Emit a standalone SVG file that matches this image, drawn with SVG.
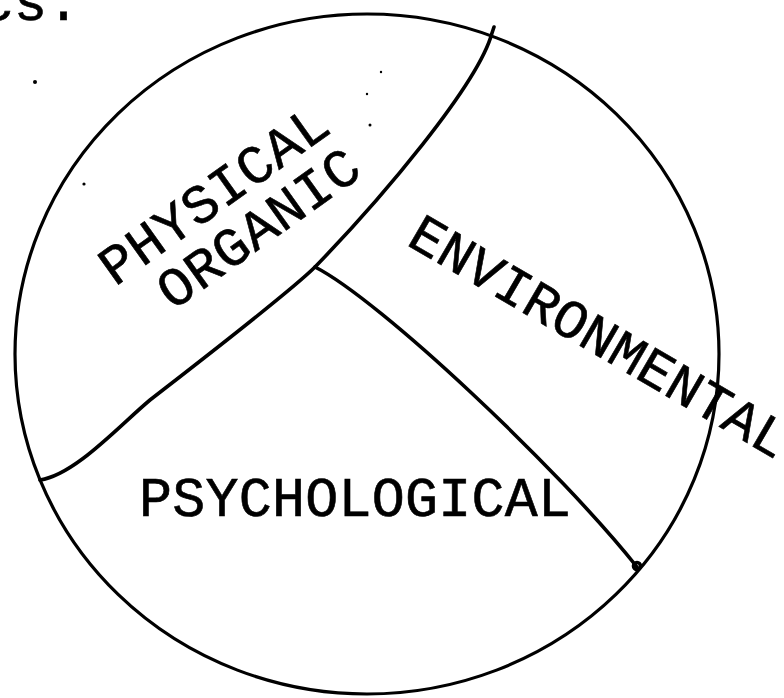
<svg xmlns="http://www.w3.org/2000/svg" width="784" height="698" viewBox="0 0 784 698">
<style>
.ln{fill:none;stroke:#000;stroke-width:3.2;stroke-linecap:round;stroke-linejoin:round}
.dv{fill:none;stroke:#000;stroke-width:3.6;stroke-linecap:round;stroke-linejoin:round}
.t{font-family:"Liberation Mono","DejaVu Sans Mono",monospace;font-size:55px;fill:#000;stroke:#000;stroke-width:0.6}
</style>
<rect width="784" height="698" fill="#fff"/>
<text class="t" x="-19" y="20">cs.</text>
<g id="specks" fill="#000">
<circle cx="35" cy="82" r="2"/>
<circle cx="84" cy="184" r="1.6"/>
<circle cx="381" cy="72" r="1.2"/>
<circle cx="367" cy="94" r="1.2"/>
<circle cx="370" cy="125" r="1.5"/>
</g>
<g id="outline">
<ellipse class="ln" cx="367" cy="354" rx="352" ry="340"/>
</g>
<g id="connectors">
<path class="dv" d="M494,27 L492,33 C478,85 380,200 315,267 C290,292 195,365 150,400 C120,425 75,475 40,480"/>
<path class="dv" d="M315,267 C380,300 560,470 637,567"/>
<circle class="dv" cx="637" cy="566" r="3.5" stroke-width="2.5"/>
</g>
<g id="physical-organic">
<text class="t" transform="translate(115,287) rotate(-35.5)" textLength="268" lengthAdjust="spacing">PHYSICAL</text>
<text class="t" transform="translate(173,311) rotate(-35.5)" textLength="235" lengthAdjust="spacing">ORGANIC</text>
</g>
<g id="environmental">
<text class="t" transform="translate(405,244) rotate(30.2)" textLength="429" lengthAdjust="spacing">ENVIRONMENTAL</text>
</g>
<g id="psychological">
<text class="t" x="139" y="516" textLength="432" lengthAdjust="spacing">PSYCHOLOGICAL</text>
</g>
</svg>
